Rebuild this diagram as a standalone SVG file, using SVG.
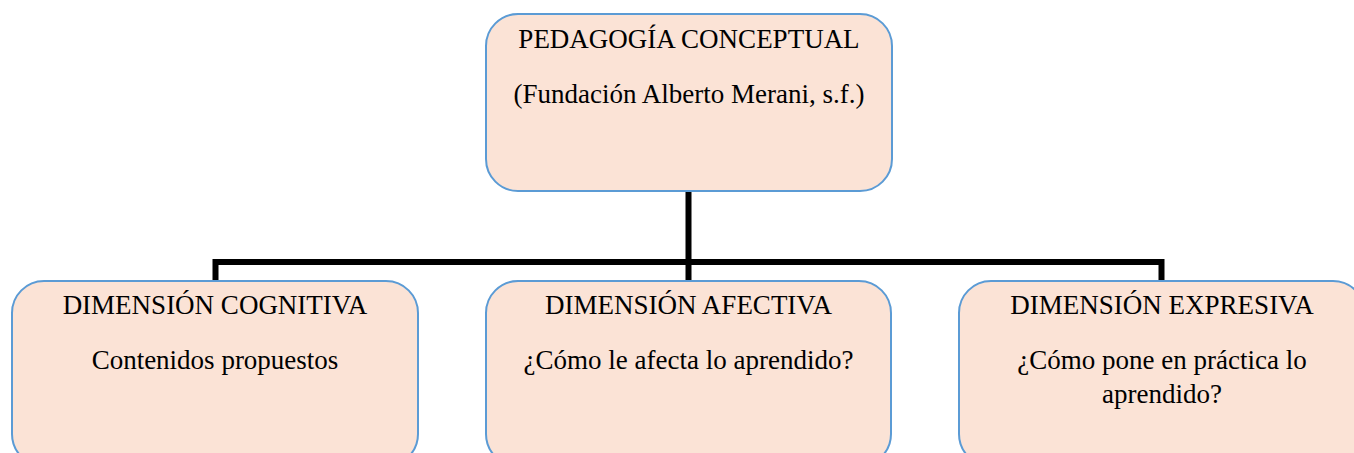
<svg xmlns="http://www.w3.org/2000/svg" width="1354" height="453" viewBox="0 0 1354 453">
<style>
.box{fill:#FBE3D6;stroke:#5B9BD5;stroke-width:2}
.t{font-family:"Liberation Serif","Times New Roman",serif;font-size:27px;fill:#000;text-anchor:middle}
.c{fill:none;stroke:#000;stroke-width:6;stroke-linecap:butt;stroke-linejoin:miter}
</style>
<rect width="1354" height="453" fill="#fff"/>
<g id="connectors">
<path class="c" d="M688.5 191 V262 M215.5 281 V262 H1161.5 V281 M688.5 262 V281"/>
</g>
<g id="node-top">
<rect class="box" x="486" y="14" width="406" height="177" rx="32"/>
<text class="t" x="689" y="48">PEDAGOGÍA CONCEPTUAL</text>
<text class="t" x="689" y="103">(Fundación Alberto Merani, s.f.)</text>
</g>
<g id="node-cognitiva">
<rect class="box" x="12" y="281" width="406" height="185" rx="32"/>
<text class="t" x="215" y="314">DIMENSIÓN COGNITIVA</text>
<text class="t" x="215" y="369">Contenidos propuestos</text>
</g>
<g id="node-afectiva">
<rect class="box" x="486" y="281" width="405" height="185" rx="32"/>
<text class="t" x="688.5" y="314">DIMENSIÓN AFECTIVA</text>
<text class="t" x="688.5" y="369">¿Cómo le afecta lo aprendido?</text>
</g>
<g id="node-expresiva">
<rect class="box" x="959" y="281" width="406" height="185" rx="32"/>
<text class="t" x="1162" y="314">DIMENSIÓN EXPRESIVA</text>
<text class="t" x="1162" y="369">¿Cómo pone en práctica lo</text>
<text class="t" x="1162" y="403">aprendido?</text>
</g>
</svg>
